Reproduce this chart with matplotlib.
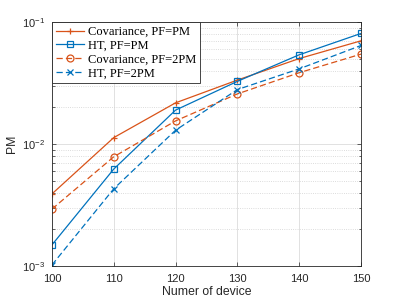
import numpy as np
import matplotlib
matplotlib.use("Agg")
import matplotlib.pyplot as plt
import matplotlib.ticker as ticker

# data
devices = [100, 110, 120, 130, 140, 150]
cov_pm = [0.0039, 0.0113, 0.0218, 0.0335, 0.0503, 0.0703]
ht_pm = [0.00149, 0.00624, 0.0190, 0.0327, 0.0540, 0.0808]
cov_2pm = [0.00293, 0.00787, 0.0155, 0.0258, 0.0385, 0.0547]
ht_2pm = [0.00102, 0.0043, 0.0130, 0.0280, 0.0414, 0.0644]
x_ticks = [100, 110, 120, 130, 140, 150]

orange = "#D95319"
blue = "#0072BD"

plt.rcParams['font.family'] = ['Liberation Sans', 'DejaVu Sans']
plt.rcParams['mathtext.fontset'] = 'custom'
plt.rcParams['mathtext.rm'] = 'Liberation Sans'
plt.rcParams['mathtext.it'] = 'Liberation Sans:italic'
plt.rcParams['lines.dashed_pattern'] = [5, 2.5]

fig = plt.figure(figsize=(3.99, 2.99), dpi=100)
ax = fig.add_axes([0.130, 0.110, 0.775, 0.816])

lw = 0.9
ax.plot(devices, cov_pm, '-', color=orange, marker='+', ms=5, mew=0.9, lw=lw,
        label='Covariance, PF=PM')
ax.plot(devices, ht_pm, '-', color=blue, marker='s', ms=4, mew=0.9, lw=lw,
        mfc='none', label='HT, PF=PM')
ax.plot(devices, cov_2pm, '--', color=orange, marker='o', ms=5, mew=0.9, lw=lw,
        mfc='none', label='Covariance, PF=2PM')
ax.plot(devices, ht_2pm, '--', color=blue, marker='x', ms=4, mew=0.9, lw=lw,
        label='HT, PF=2PM')

ax.set_yscale('log')
ax.set_xlim(100, 150)
ax.set_ylim(1e-3, 1e-1)
ax.set_xticks(x_ticks)
ax.yaxis.set_major_locator(ticker.LogLocator(base=10, numticks=5))
ax.yaxis.set_minor_locator(ticker.LogLocator(base=10, subs=np.arange(2, 10), numticks=10))
ax.yaxis.set_minor_formatter(ticker.NullFormatter())

# matlab style grid
ax.grid(True, which='major', axis='both', color='#dcdcdc', linestyle='-', linewidth=0.6)
ax.grid(True, which='minor', axis='y', color='#d0d0d0', linestyle=':', linewidth=0.6)
ax.set_axisbelow(True)

ax.tick_params(which='both', direction='in', top=True, right=True,
               labelsize=8, colors='#262626', width=0.5)
ax.tick_params(which='major', length=3)
ax.tick_params(which='minor', length=1.8)
ax.tick_params(axis='x', pad=6)
ax.tick_params(axis='y', pad=5)
for s in ax.spines.values():
    s.set_color('#262626')
    s.set_linewidth(0.6)

ax.set_xlabel('Numer of device', fontsize=8.8, color='#262626', labelpad=1)
ax.set_ylabel('PM', fontsize=8.8, color='#262626', labelpad=3)

leg = ax.legend(loc='upper left', borderaxespad=0, fancybox=False,
                prop={'family': 'Liberation Serif', 'size': 9},
                handlelength=2.3, handletextpad=0.3, labelspacing=0.15,
                borderpad=0.3, framealpha=1)
leg.get_frame().set_edgecolor('#262626')
leg.get_frame().set_linewidth(0.6)

fig.savefig('out.png', dpi=100)
